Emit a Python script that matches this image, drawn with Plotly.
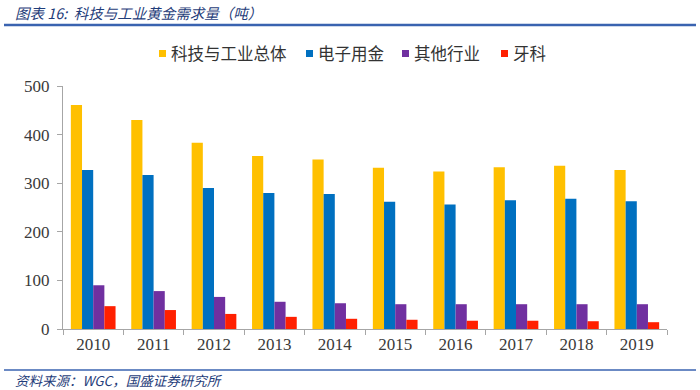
import plotly.graph_objects as go

years = ["2010", "2011", "2012", "2013", "2014", "2015", "2016", "2017", "2018", "2019"]
total = [461, 430, 383, 356, 349, 332, 324, 333, 336, 327]
electronics = [327, 317, 290, 280, 278, 262, 256, 265, 268, 263]
other = [90, 78, 66, 56, 53, 51, 51, 51, 51, 51]
dental = [47, 39, 31, 25, 21, 19, 17, 17, 16, 14]

names = ["科技与工业总体", "电子用金", "其他行业", "牙科"]
colors = ["#FFC000", "#0070C0", "#7030A0", "#FF2000"]
series = [total, electronics, other, dental]

fig = go.Figure()
for n, c, v in zip(names, colors, series):
    fig.add_trace(go.Bar(x=years, y=v, name=n, showlegend=False,
                         marker=dict(color=c, line=dict(width=0))))

L, R, T, B = 63, 33, 86, 61
W, H = 700, 390
pw, ph = W - L - R, H - T - B

def px(x):
    return (x - L) / pw

def py(y):
    return (H - B - y) / ph

fig.update_layout(
    width=W, height=H,
    margin=dict(l=L, r=R, t=T, b=B, autoexpand=False),
    plot_bgcolor="white", paper_bgcolor="white",
    barmode="group", bargap=0.26, bargroupgap=0,
    font=dict(family="Liberation Serif", color="#333333"),
    xaxis=dict(showline=True, linecolor="#A6A6A6", linewidth=1, ticks="outside",
               tickcolor="#A6A6A6", ticklen=5, tickson="boundaries",
               tickfont=dict(family="Liberation Serif", size=17, color="#3A3A3A")),
    yaxis=dict(range=[0, 500], dtick=100, showline=True, linecolor="#A6A6A6", linewidth=1,
               ticks="outside", tickcolor="#A6A6A6", ticklen=5, showgrid=False, zeroline=False,
               ticklabelstandoff=4,
               tickfont=dict(family="Liberation Serif", size=17, color="#3A3A3A")),
)

# legend (manual, to match the reference's compact layout)
leg_sq_x = [159, 306, 402, 501]
for n, c, sx in zip(names, colors, leg_sq_x):
    fig.add_shape(type="rect", xref="paper", yref="paper",
                  x0=px(sx), x1=px(sx + 7), y0=py(57), y1=py(50),
                  fillcolor=c, line=dict(width=0))
    fig.add_annotation(xref="paper", yref="paper", x=px(sx + 10), y=py(53), xanchor="left",
                       yanchor="middle", text=n, showarrow=False,
                       font=dict(family="Noto Sans CJK SC", size=16.5, color="#333333"))

fig.add_shape(type="line", xref="paper", yref="paper", x0=px(4), x1=px(696), y0=py(25), y1=py(25),
              line=dict(color="#3A63B0", width=2.5))
fig.add_shape(type="line", xref="paper", yref="paper", x0=px(4), x1=px(696), y0=py(370), y1=py(370),
              line=dict(color="#3A63B0", width=1.5))
fig.add_annotation(xref="paper", yref="paper", x=px(13), y=py(12), xanchor="left", yanchor="middle",
                   text="<i>图表 16:&nbsp;&nbsp;科技与工业黄金需求量（吨）</i>", showarrow=False,
                   font=dict(family="Noto Sans CJK SC", size=14.5, color="#1F3D7A"))
fig.add_annotation(xref="paper", yref="paper", x=px(13), y=py(380), xanchor="left", yanchor="middle",
                   text="<i>资料来源：WGC，国盛证券研究所</i>", showarrow=False,
                   font=dict(family="Noto Sans CJK SC", size=13.5, color="#1F3D7A"))

fig.write_html("out.html", config={"displayModeBar": False},
               post_script="document.body.style.margin='0';")
